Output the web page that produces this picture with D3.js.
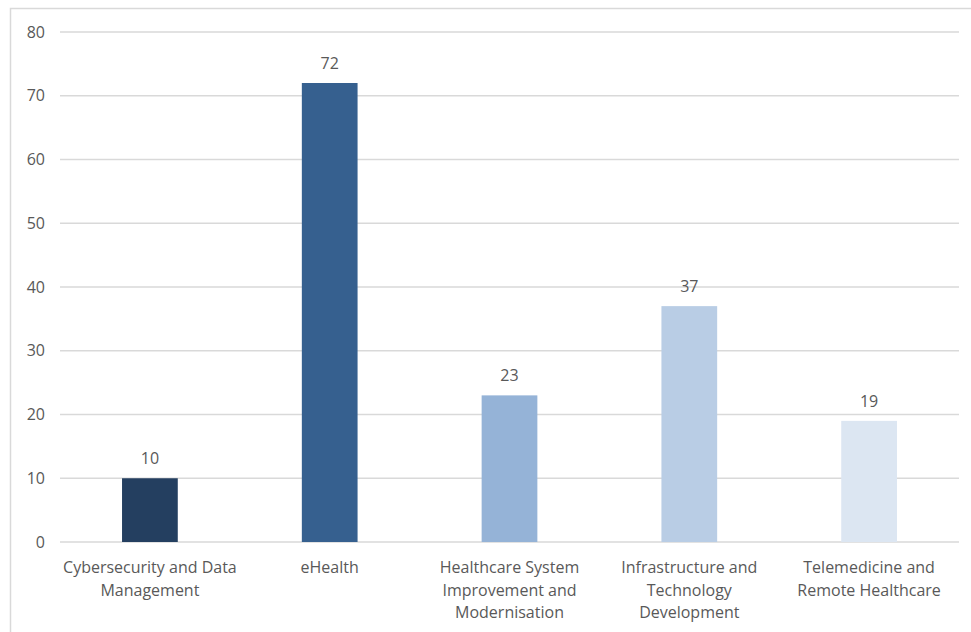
<!DOCTYPE html>
<html>
<head>
<meta charset="utf-8">
<script src="https://cdn.jsdelivr.net/npm/d3@7"></script>
<style>
  body { margin: 0; background: #fff; }
  svg text { font-family: 'Open Sans', 'Noto Sans', sans-serif; fill: #595959; }
</style>
</head>
<body>
<svg width="971" height="632"></svg>
<script>
// chart data
const categories = [
  ['Cybersecurity and Data', 'Management'],
  ['eHealth'],
  ['Healthcare System', 'Improvement and', 'Modernisation'],
  ['Infrastructure and', 'Technology', 'Development'],
  ['Telemedicine and', 'Remote Healthcare']
];
const values = [10, 72, 23, 37, 19];
const barColors = ['#243f60', '#36608f', '#95b3d7', '#b9cde5', '#dce6f2'];
const yTicks = [0, 10, 20, 30, 40, 50, 60, 70, 80];

const svg = d3.select('svg');
const margin = { top: 32, right: 12, bottom: 90, left: 60 };
const width = 971, height = 632;

// outer chart frame
svg.append('rect')
  .attr('x', 10.5).attr('y', 8.5)
  .attr('width', 980).attr('height', 640)
  .attr('fill', 'none')
  .attr('stroke', '#d9d9d9')
  .attr('stroke-width', 1.5);

const x = d3.scaleBand()
  .domain(d3.range(categories.length))
  .range([margin.left, width - margin.right]);

const y = d3.scaleLinear()
  .domain([0, 80])
  .range([height - margin.bottom, margin.top]);

// gridlines
svg.append('g')
  .selectAll('line')
  .data(yTicks)
  .join('line')
  .attr('x1', margin.left)
  .attr('x2', width - margin.right)
  .attr('y1', d => y(d))
  .attr('y2', d => y(d))
  .attr('stroke', '#d9d9d9')
  .attr('stroke-width', 1.5);

// y axis labels
const yAxis = d3.axisLeft(y).tickValues(yTicks).tickSize(0).tickPadding(15);
svg.append('g')
  .attr('transform', 'translate(' + margin.left + ',0)')
  .call(yAxis)
  .call(g => g.select('.domain').remove())
  .selectAll('text')
  .style('font-size', '16px')
  .attr('fill', '#595959');

const barW = x.bandwidth() * 0.31;

svg.append('g')
  .selectAll('rect')
  .data(values)
  .join('rect')
  .attr('x', (d, i) => x(i) + x.bandwidth() / 2 - barW / 2)
  .attr('width', barW)
  .attr('y', d => y(d))
  .attr('height', d => y(0) - y(d))
  .attr('fill', (d, i) => barColors[i]);

// value labels
svg.append('g')
  .selectAll('text')
  .data(values)
  .join('text')
  .attr('x', (d, i) => x(i) + x.bandwidth() / 2)
  .attr('y', d => y(d) - 14)
  .attr('text-anchor', 'middle')
  .style('font-size', '16px')
  .text(d => d);

// category labels
const catG = svg.append('g')
  .selectAll('text')
  .data(categories)
  .join('text')
  .attr('x', (d, i) => x(i) + x.bandwidth() / 2)
  .attr('y', y(0) + 31)
  .attr('text-anchor', 'middle')
  .style('font-size', '16px');

catG.selectAll('tspan')
  .data(d => d)
  .join('tspan')
  .attr('x', function () { return d3.select(this.parentNode).attr('x'); })
  .attr('dy', (d, i) => i === 0 ? 0 : 22.5)
  .text(d => d);
</script>
</body>
</html>
